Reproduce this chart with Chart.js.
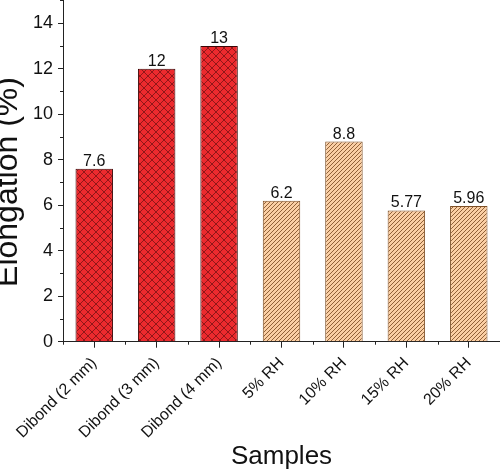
<!DOCTYPE html>
<html>
<head>
<meta charset="utf-8">
<script src="https://cdn.jsdelivr.net/npm/chart.js@4/dist/chart.umd.min.js"></script>
<style>
  html, body { margin: 0; padding: 0; background: #fff; }
  #wrap { width: 500px; height: 469px; }
</style>
</head>
<body>
<div id="wrap"><canvas id="elongChart"></canvas></div>
<script>
// values
const samples = ['Dibond (2 mm)', 'Dibond (3 mm)', 'Dibond (4 mm)', '5% RH', '10% RH', '15% RH', '20% RH'];
const elongation = [7.6, 12, 13, 6.2, 8.8, 5.77, 5.96];
const valueLabels = ['7.6', '12', '13', '6.2', '8.8', '5.77', '5.96'];
const isDibond = [true, true, true, false, false, false, false];
const yMinorTicks = [1, 3, 5, 7, 9, 11, 13, 15];

const FONT = '"Liberation Sans", Arial, sans-serif';

// crosshatch for the dibond bars
function crossPattern() {
    const c = document.createElement('canvas');
    c.width = 8; c.height = 8;
    const g = c.getContext('2d');
    g.fillStyle = '#ec2a2e';
    g.fillRect(0, 0, 8, 8);
    g.strokeStyle = '#6a1010';
    g.lineWidth = 0.7;
    g.beginPath();
    g.moveTo(0, 0); g.lineTo(8, 8);
    g.moveTo(0, 8); g.lineTo(8, 0);
    g.stroke();
    return g.createPattern(c, 'repeat');
}

// single diagonal hatch for the RH bars
function hatchPattern() {
    const c = document.createElement('canvas');
    c.width = 4; c.height = 4;
    const g = c.getContext('2d');
    g.fillStyle = '#fbcfa4';
    g.fillRect(0, 0, 4, 4);
    g.strokeStyle = '#85562c';
    g.lineWidth = 0.9;
    g.beginPath();
    g.moveTo(-1, 5); g.lineTo(5, -1);
    g.moveTo(-1, 1); g.lineTo(1, -1);
    g.moveTo(3, 5); g.lineTo(5, 3);
    g.stroke();
    return g.createPattern(c, 'repeat');
}

const cross = crossPattern();
const hatch = hatchPattern();

// numbers above each bar
const valueLabelPlugin = {
    id: 'valueLabels',
    afterDatasetsDraw(chart) {
        const ctx = chart.ctx;
        const meta = chart.getDatasetMeta(0);
        ctx.save();
        ctx.font = '16px ' + FONT;
        ctx.fillStyle = '#111';
        ctx.textAlign = 'center';
        ctx.textBaseline = 'alphabetic';
        meta.data.forEach((bar, i) => {
            ctx.fillText(valueLabels[i], bar.x, bar.y - 3);
        });
        ctx.restore();
    }
};

// minor ticks (x between categories, y at odd values) and the y title
const axisExtrasPlugin = {
    id: 'axisExtras',
    afterDraw(chart) {
        const x = chart.scales.x;
        const y = chart.scales.y;
        const ctx = chart.ctx;
        ctx.save();
        ctx.strokeStyle = '#222';
        ctx.lineWidth = 1;
        ctx.beginPath();
        for (let i = 0; i <= samples.length; i++) {
            const px = Math.round(x.getPixelForValue(i - 0.5)) + 0.5;
            ctx.moveTo(px, x.top);
            ctx.lineTo(px, x.top + 3);
        }
        yMinorTicks.forEach(v => {
            const py = Math.round(y.getPixelForValue(v)) + 0.5;
            ctx.moveTo(y.right, py);
            ctx.lineTo(y.right - 3, py);
        });
        ctx.stroke();

        ctx.translate(8, 182);
        ctx.rotate(-Math.PI / 2);
        ctx.font = '32px ' + FONT;
        ctx.fillStyle = '#111';
        ctx.textAlign = 'center';
        ctx.textBaseline = 'middle';
        ctx.fillText('Elongation (%)', 0, 0);
        ctx.restore();
    }
};

new Chart(document.getElementById('elongChart'), {
    type: 'bar',
    data: {
        labels: samples,
        datasets: [{
            data: elongation,
            backgroundColor: isDibond.map(d => d ? cross : hatch),
            borderColor: isDibond.map(d => d ? '#3a0505' : '#7d4f26'),
            borderWidth: 1,
            barPercentage: 0.6,
            categoryPercentage: 1.0
        }]
    },
    options: {
        responsive: true,
        maintainAspectRatio: false,
        animation: false,
        layout: { padding: { left: 33, right: 0, top: 0, bottom: 0 } },
        plugins: {
            legend: { display: false },
            tooltip: { enabled: false }
        },
        scales: {
            x: {
                offset: true,
                grid: {
                    display: true,
                    drawOnChartArea: false,
                    offset: false,
                    tickLength: 6,
                    tickColor: '#222'
                },
                border: { display: true, color: '#222', width: 1 },
                ticks: {
                    color: '#111',
                    font: { family: FONT, size: 16 },
                    minRotation: 45,
                    maxRotation: 45,
                    autoSkip: false,
                    padding: 6
                },
                title: {
                    display: true,
                    text: 'Samples',
                    color: '#111',
                    font: { family: FONT, size: 26, lineHeight: 0.65 },
                    padding: { top: 0, bottom: 4 }
                }
            },
            y: {
                min: 0,
                max: 15,
                afterBuildTicks: scale => {
                    scale.ticks = scale.ticks.filter(t => t.value <= 14);
                },
                grid: {
                    display: true,
                    drawOnChartArea: false,
                    tickLength: 5,
                    tickColor: '#222'
                },
                border: { display: true, color: '#222', width: 1 },
                ticks: {
                    stepSize: 2,
                    color: '#111',
                    font: { family: FONT, size: 18, lineHeight: 0.05 },
                    padding: 0,
                    callback: v => v + ' '
                },
                title: { display: false }
            }
        }
    },
    plugins: [valueLabelPlugin, axisExtrasPlugin]
});
</script>
</body>
</html>
